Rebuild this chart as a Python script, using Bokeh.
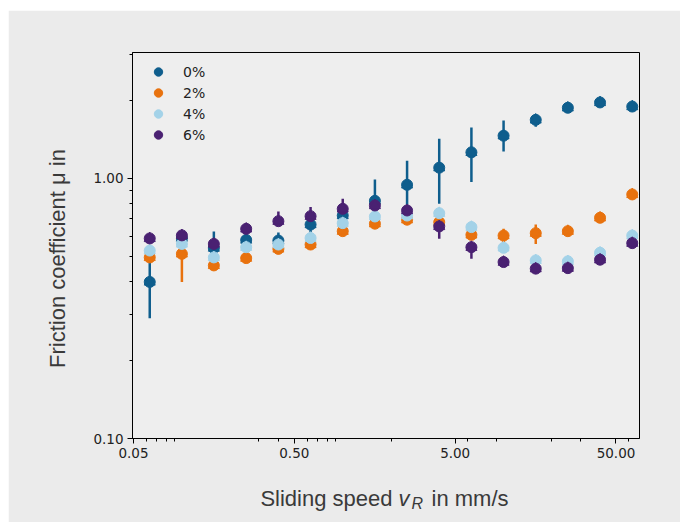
import math
from bokeh.plotting import figure
from bokeh.models import (FixedTicker, NumeralTickFormatter, Range1d, Label,
                          Legend, LegendItem, ColumnDataSource)
from bokeh.embed import file_html
from bokeh.resources import INLINE

# ---------------- data ----------------
speeds = [0.0631, 0.1, 0.158, 0.251, 0.398, 0.631, 1.0, 1.585, 2.512, 3.98,
          6.31, 10.0, 15.85, 25.1, 39.8, 63.1]

series_names = ["0%", "2%", "4%", "6%"]
series_colors = ["#0f5e8d", "#e8720e", "#a3d2e8", "#4a2172"]

mu_0 = [0.40, 0.59, 0.54, 0.58, 0.577, 0.665, 0.72, 0.82, 0.945, 1.10, 1.26, 1.46, 1.68, 1.87, 1.96, 1.89]
lo_0 = [0.29, 0.56, 0.49, 0.55, 0.53, 0.62, 0.68, 0.74, 0.75, 0.80, 0.97, 1.27, 1.58, 1.83, 1.92, 1.85]
hi_0 = [0.48, 0.62, 0.625, 0.61, 0.62, 0.70, 0.76, 0.99, 1.17, 1.42, 1.57, 1.67, 1.77, 1.91, 2.00, 1.93]

mu_2 = [0.497, 0.513, 0.463, 0.494, 0.536, 0.557, 0.627, 0.67, 0.694, 0.679, 0.607, 0.603, 0.616, 0.627, 0.706, 0.868]
lo_2 = [0.48, 0.40, 0.45, 0.48, 0.52, 0.54, 0.61, 0.65, 0.67, 0.64, 0.58, 0.565, 0.56, 0.61, 0.69, 0.85]
hi_2 = [0.51, 0.53, 0.48, 0.51, 0.55, 0.575, 0.64, 0.69, 0.72, 0.70, 0.625, 0.64, 0.665, 0.645, 0.72, 0.885]

mu_4 = [0.528, 0.56, 0.497, 0.544, 0.557, 0.59, 0.673, 0.714, 0.72, 0.735, 0.65, 0.541, 0.484, 0.48, 0.518, 0.603]
lo_4 = [0.515, 0.545, 0.485, 0.53, 0.545, 0.575, 0.655, 0.70, 0.705, 0.715, 0.635, 0.53, 0.472, 0.468, 0.505, 0.59]
hi_4 = [0.54, 0.575, 0.51, 0.56, 0.57, 0.605, 0.69, 0.73, 0.735, 0.755, 0.665, 0.555, 0.496, 0.492, 0.531, 0.617]

mu_6 = [0.588, 0.604, 0.56, 0.64, 0.685, 0.716, 0.764, 0.787, 0.753, 0.654, 0.544, 0.477, 0.45, 0.452, 0.487, 0.564]
lo_6 = [0.57, 0.585, 0.54, 0.62, 0.665, 0.695, 0.745, 0.765, 0.735, 0.586, 0.491, 0.46, 0.435, 0.44, 0.475, 0.55]
hi_6 = [0.61, 0.625, 0.58, 0.67, 0.746, 0.776, 0.835, 0.81, 0.77, 0.67, 0.56, 0.49, 0.465, 0.465, 0.50, 0.58]

series_mu = [mu_0, mu_2, mu_4, mu_6]
series_lo = [lo_0, lo_2, lo_4, lo_6]
series_hi = [hi_0, hi_2, hi_4, hi_6]

x_major = [0.05, 0.5, 5, 50]
x_minor = [0.06, 0.07, 0.08, 0.09, 0.3, 0.4, 0.6, 0.7, 0.8, 0.9, 2, 6, 9, 20, 30, 60]
y_major = [0.1, 1.0]
y_minor = [0.2, 0.3, 0.4, 0.5, 0.6, 0.7, 0.8, 0.9, 2, 3]

X_MIN, X_MAX = 0.0493, 70.0
Y_MIN, Y_MAX = 0.1, 3.05

# ---------------- figure ----------------
W, H = 672, 512
ML, MR, MT, MB = 124, 41, 42, 84

p = figure(width=W, height=H, x_axis_type="log", y_axis_type="log",
           x_range=Range1d(X_MIN, X_MAX), y_range=Range1d(Y_MIN, Y_MAX),
           output_backend="svg", toolbar_location=None,
           min_border_left=ML, min_border_right=MR,
           min_border_top=MT, min_border_bottom=MB)
p.styles = {"margin-left": "8px", "margin-top": "10px"}

p.background_fill_color = "#eeeeee"
p.border_fill_color = "#ebebeb"
p.outline_line_color = "#000000"
p.outline_line_width = 1
p.xgrid.visible = False
p.ygrid.visible = False

for ax in (p.xaxis[0], p.yaxis[0]):
    ax.axis_line_color = "#000000"
    ax.major_tick_out = 5
    ax.major_tick_in = 0
    ax.minor_tick_out = 3
    ax.minor_tick_in = 0
    ax.major_tick_line_color = "#000000"
    ax.minor_tick_line_color = "#000000"
    ax.major_label_text_font = "DejaVu Sans"
    ax.major_label_text_font_size = "13.5px"
    ax.major_label_text_color = "#222222"
    ax.major_label_standoff = 4
    ax.formatter = NumeralTickFormatter(format="0.00")

p.xaxis[0].ticker = FixedTicker(ticks=x_major, minor_ticks=x_minor)
p.yaxis[0].ticker = FixedTicker(ticks=y_major, minor_ticks=y_minor)

legend_items = []
for name, col, mu, lo, hi in zip(series_names, series_colors, series_mu, series_lo, series_hi):
    src = ColumnDataSource(dict(x=speeds, mu=mu, lo=lo, hi=hi))
    p.segment(x0="x", y0="lo", x1="x", y1="hi", source=src,
              line_color=col, line_width=2.5)
    r = p.scatter(x="x", y="mu", source=src, marker="circle", size=11,
                  fill_color=col, line_color=col, line_width=1)
    p.scatter(x="x", y="mu", source=src, marker="triangle", size=11,
              fill_color=col, line_color=col, line_width=1)
    legend_items.append(LegendItem(label=name, renderers=[r]))

legend = Legend(items=legend_items, location="top_left")
legend.background_fill_alpha = 0
legend.border_line_alpha = 0
legend.margin = 2
legend.padding = 7
legend.glyph_width = 34
legend.glyph_height = 21
legend.spacing = 0
legend.label_standoff = 8
legend.label_text_font = "DejaVu Sans"
legend.label_text_font_size = "14px"
legend.label_text_color = "#222222"
legend.label_height = 21
p.add_layout(legend)

# ---------------- axis titles (text placed via the log scales) ----------------
FL, FR, FT, FB = 132, 639, 52, 438   # frame edges in page pixels (for text placement)

def xd(px):
    return X_MIN * (X_MAX / X_MIN) ** ((px - FL) / (FR - FL))

def yd(py):
    return Y_MIN * (Y_MAX / Y_MIN) ** ((FB - py) / (FB - FT))

lab_font = "Liberation Sans"
lab_col = "#3a3a3a"

# Labels live in side panels so that they are not clipped to the frame;
# spread over panels that have spare room so the frame keeps its size.
p.add_layout(Label(x=xd(57), y=yd(258), text="Friction coefficient μ in",
                   angle=math.pi / 2, text_align="center", text_baseline="middle",
                   text_font=lab_font, text_font_size="22px", text_color=lab_col), "left")

p.add_layout(Label(x=xd(392), y=yd(498), text="Sliding speed",
                   text_align="right", text_baseline="alphabetic",
                   text_font=lab_font, text_font_size="22px", text_color=lab_col), "below")
p.add_layout(Label(x=xd(398), y=yd(498), text="v",
                   text_align="left", text_baseline="alphabetic",
                   text_font=lab_font, text_font_size="22px", text_font_style="italic",
                   text_color=lab_col), "right")
p.add_layout(Label(x=xd(411), y=yd(503), text="R",
                   text_align="left", text_baseline="alphabetic",
                   text_font=lab_font, text_font_size="16px", text_font_style="italic",
                   text_color=lab_col), "left")
p.add_layout(Label(x=xd(431), y=yd(498), text="in mm/s",
                   text_align="left", text_baseline="alphabetic",
                   text_font=lab_font, text_font_size="22px", text_color=lab_col), "above")

open("out.html", "w").write(file_html(p, INLINE))
